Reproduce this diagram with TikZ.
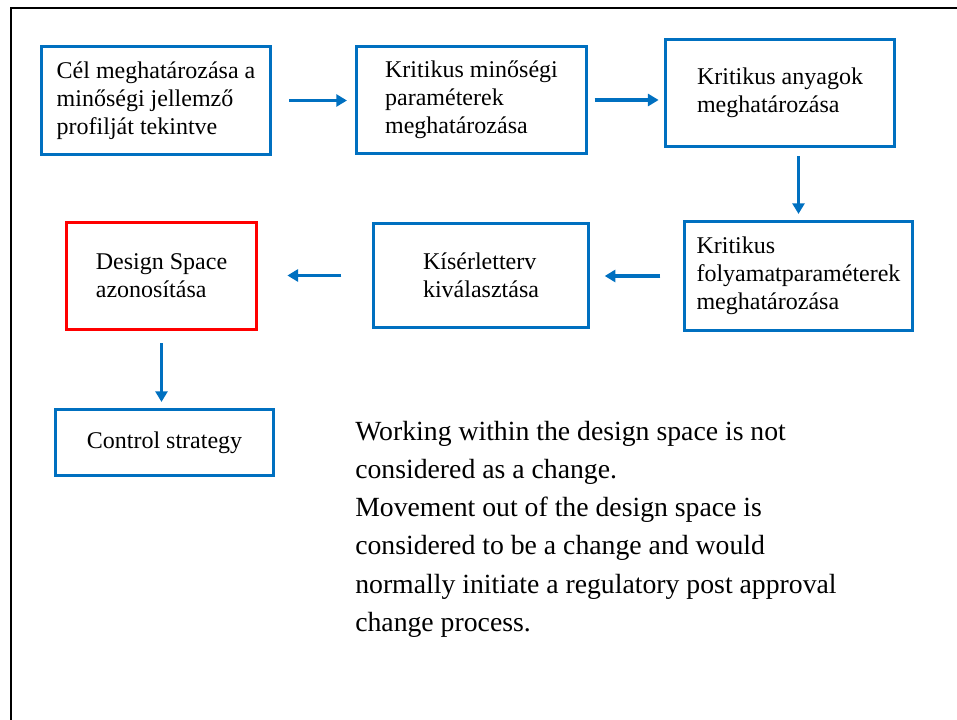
\documentclass[tikz,border=0pt]{standalone}
\usepackage{fontspec}
\setmainfont{Liberation Serif}
\usetikzlibrary{arrows.meta}

\definecolor{stepblue}{RGB}{0,112,192}
\definecolor{stepred}{RGB}{255,0,0}

\begin{document}
\begin{tikzpicture}[x=0.75pt,y=-0.75pt,
  box/.style={shape=rectangle,draw=stepblue,line width=2.3pt,align=left,inner sep=0pt,
    font=\fontsize{18}{21}\selectfont},
  boxR/.style={box,draw=stepred},
  flow/.style={draw=stepblue,line width=2.3pt,-{Triangle[length=8pt,width=9pt]}},
  note/.style={anchor=north west,align=left,inner sep=0pt,font=\fontsize{20.8}{28.6}\selectfont}]
\useasboundingbox (0,0) rectangle (957,720);

% frame
\draw[line width=2pt] (11,722) -- (11,8) -- (960,8);

% first row
\node[box,minimum width=229*0.75pt,minimum height=108*0.75pt] (cel) at (156,100.5) {C\'el meghat\'aroz\'asa a\\min\H{o}s\'egi jellemz\H{o}\\profilj\'at tekintve};
\node[box,minimum width=230*0.75pt,minimum height=107*0.75pt] (param) at (471.5,100) {Kritikus min\H{o}s\'egi\\param\'eterek\\meghat\'aroz\'asa};
\node[box,minimum width=229*0.75pt,minimum height=107*0.75pt] (anyag) at (780,93) {Kritikus anyagok\\meghat\'aroz\'asa};

% second row
\node[box,minimum width=228*0.75pt,minimum height=109*0.75pt] (folyamat) at (798.5,276) {Kritikus\\folyamatparam\'eterek\\meghat\'aroz\'asa};
\node[box,minimum width=215*0.75pt,minimum height=104*0.75pt] (kiserlet) at (481,275.5) {K\'is\'erletterv\\kiv\'alaszt\'asa};
\node[boxR,minimum width=190*0.75pt,minimum height=107*0.75pt] (design) at (161.5,276) {Design Space\\azonos\'it\'asa};

% last box
\node[box,minimum width=218*0.75pt,minimum height=66*0.75pt] (control) at (164.5,442.5) {Control strategy};

\draw[flow,shorten <=13pt,shorten >=6pt] (cel) -- (cel -| param.west);
\draw[flow,shorten <=5pt,shorten >=4pt] (param) -- (param -| anyag.west);
\draw[flow,shorten <=6pt,shorten >=4.5pt] (anyag.south -| folyamat) -- (folyamat.north);
\draw[flow,shorten <=17pt,shorten >=11pt] (folyamat.west) -- (folyamat.west -| kiserlet.east);
\draw[flow,shorten <=23pt,shorten >=22pt] (kiserlet.west) -- (kiserlet.west -| design.east);
\draw[flow,shorten <=9pt,shorten >=4.5pt] (design.south) -- (design.south |- control.north);

\node[note] (txt) at (355,421) {Working within the design space is not\\considered as a change.\\Movement out of the design space is\\considered to be a change and would\\normally initiate a regulatory post approval\\change process.};
\end{tikzpicture}
\end{document}
